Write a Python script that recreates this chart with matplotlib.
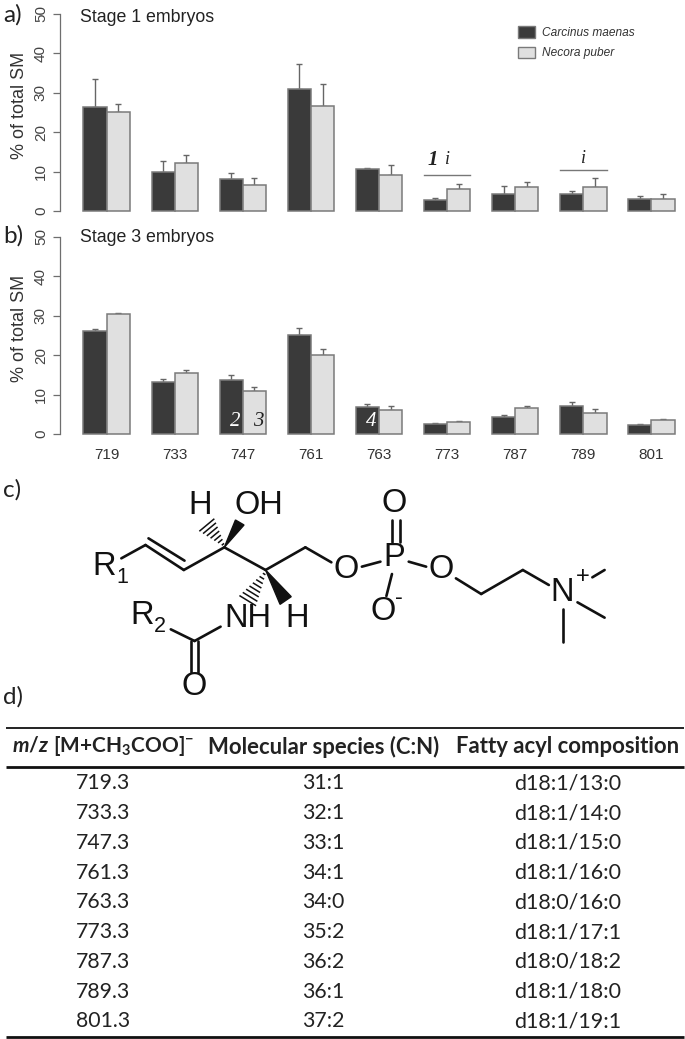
import matplotlib
matplotlib.use("Agg")
import matplotlib.pyplot as plt
from matplotlib.patches import Patch, Polygon
import numpy as np

plt.rcParams['font.family'] = ['Liberation Sans', 'DejaVu Sans']
plt.rcParams['mathtext.fontset'] = 'custom'
plt.rcParams['mathtext.rm'] = 'Lato:bold'
plt.rcParams['mathtext.it'] = 'Lato:italic:bold'
plt.rcParams['mathtext.bf'] = 'Lato:bold'

# ---------- data ----------
mz_labels = ['719', '733', '747', '761', '763', '773', '787', '789', '801']
species = ['Carcinus maenas', 'Necora puber']

s1_carcinus = [26.3, 10.0, 8.1, 30.9, 10.6, 2.7, 4.3, 4.3, 3.1]
s1_carcinus_top = [33.5, 12.8, 9.7, 37.4, 10.8, 3.3, 6.25, 5.2, 3.9]
s1_necora = [25.2, 12.1, 6.5, 26.7, 9.1, 5.5, 6.0, 6.2, 3.0]
s1_necora_top = [27.1, 14.2, 8.4, 32.3, 11.8, 6.8, 7.4, 8.4, 4.2]

s3_carcinus = [26.2, 13.3, 13.7, 25.0, 6.8, 2.5, 4.3, 7.2, 2.2]
s3_carcinus_top = [26.5, 13.85, 14.9, 26.8, 7.7, 2.7, 4.8, 8.0, 2.5]
s3_necora = [30.3, 15.5, 10.8, 20.0, 6.2, 3.0, 6.6, 5.3, 3.5]
s3_necora_top = [30.7, 16.2, 12.0, 21.6, 7.0, 3.2, 7.0, 6.25, 3.8]

yticks = [0, 10, 20, 30, 40, 50]

table_header = ['$\\mathit{m/z}$ $\\mathrm{[M{+}CH_3COO]^{-}}$',
                'Molecular species (C:N)', 'Fatty acyl composition']
table_mz = ['719.3', '733.3', '747.3', '761.3', '763.3', '773.3', '787.3', '789.3', '801.3']
table_species = ['31:1', '32:1', '33:1', '34:1', '34:0', '35:2', '36:2', '36:1', '37:2']
table_fatty = ['d18:1/13:0', 'd18:1/14:0', 'd18:1/15:0', 'd18:1/16:0', 'd18:0/16:0',
               'd18:1/17:1', 'd18:0/18:2', 'd18:1/18:0', 'd18:1/19:1']

# ---------- layout ----------
W, H = 685, 1039
fig = plt.figure(figsize=(W / 100, H / 100), dpi=100, facecolor='white')

DARK, LIGHT, EDGE, AXC = '#3a3a3a', '#e0e0e0', '#7a7a7a', '#6e6e6e'
x0, dx, barw = 106.6, 68.1, 23.2
left_px = 60


def panel(y_top, y_bot, dark, dark_top, light, light_top, title, title_y, xlabels=False):
    ax = fig.add_axes([left_px / W, 1 - y_bot / H, (W - left_px) / W, (y_bot - y_top) / H])
    ax.patch.set_alpha(0)
    ax.set_xlim((left_px - x0) / dx, (W - x0) / dx)
    ax.set_ylim(0, 50)
    pos = np.arange(len(mz_labels))
    bw = barw / dx
    for off, vals, tops, col in ((-bw / 2, dark, dark_top, DARK), (bw / 2, light, light_top, LIGHT)):
        vals, tops = np.array(vals), np.array(tops)
        ax.errorbar(pos + off, vals, yerr=[np.zeros_like(vals), tops - vals], fmt='none',
                    ecolor='#666666', elinewidth=1, capsize=2.4, capthick=1, zorder=2, clip_on=False)
        ax.bar(pos + off, vals, bw, color=col, edgecolor=EDGE, linewidth=1.1, zorder=3, clip_on=False)
    for s in ('top', 'right', 'bottom'):
        ax.spines[s].set_visible(False)
    ax.spines['left'].set_color(AXC)
    ax.spines['left'].set_linewidth(0.9)
    ax.set_yticks(yticks)
    ax.set_yticklabels([str(v) for v in yticks], rotation=90, va='center', fontsize=11, color='#444444')
    ax.tick_params(axis='y', length=4.7, width=0.9, color=AXC, pad=4)
    if xlabels:
        ax.set_xticks(pos)
        ax.set_xticklabels(mz_labels, fontsize=11, color='#333333')
        ax.tick_params(axis='x', length=0, pad=10)
    else:
        ax.set_xticks([])
    fig.text(20 / W, 1 - ((y_top + y_bot) / 2 - 7) / H, '% of total SM', rotation=90, ha='center',
             va='center', fontsize=13, color='#333333')
    fig.text(80 / W, 1 - title_y / H, title, fontsize=12.8, color='#222222', va='center')
    return ax


ax_a = panel(14, 211, s1_carcinus, s1_carcinus_top, s1_necora, s1_necora_top, 'Stage 1 embryos', 17)
ax_b = panel(236.7, 434, s3_carcinus, s3_carcinus_top, s3_necora, s3_necora_top, 'Stage 3 embryos', 238, xlabels=True)

ax_a.legend(handles=[Patch(facecolor=DARK, edgecolor=EDGE, label=species[0]),
                     Patch(facecolor=LIGHT, edgecolor=EDGE, label=species[1])],
            loc='upper left', bbox_to_anchor=(516 / W, 1 - 24 / H), bbox_transform=fig.transFigure,
            frameon=False, prop={'style': 'italic', 'size': 8.6}, handlelength=1.35, handleheight=1.1,
            labelspacing=0.62, handletextpad=0.65, borderpad=0.2, borderaxespad=0, labelcolor='#333333')

# significance markers
ax_a.plot([5 - barw / dx, 5 + barw / dx], [9.1, 9.1], color='#777777', lw=1, zorder=4)
ax_a.plot([7 - barw / dx, 7 + barw / dx], [10.4, 10.4], color='#777777', lw=1, zorder=4)
serif_it = dict(family='Liberation Serif', style='italic', ha='center', va='center')
ax_a.text(4.79, 13.0, '1', fontsize=15, fontweight='bold', color='#222222', **serif_it)
ax_a.text(5.0, 13.0, 'i', fontsize=13, color='#222222', **serif_it)
ax_a.text(7.0, 13.4, 'i', fontsize=13, color='#222222', **serif_it)
ax_b.text(2 - barw / dx / 2 + 0.06, 3.1, '2', fontsize=15, color='white', **serif_it)
ax_b.text(2 + barw / dx / 2 + 0.06, 3.1, '3', fontsize=15, color='#222222', **serif_it)
ax_b.text(4 - barw / dx / 2 + 0.06, 3.1, '4', fontsize=15, color='white', **serif_it)

# ---------- overlay in pixel coordinates ----------
ov = fig.add_axes([0, 0, 1, 1])
ov.set_xlim(0, W)
ov.set_ylim(H, 0)
ov.axis('off')
ov.patch.set_alpha(0)

lato = dict(family='Lato', color='#222222')
for lab, y, xx in (('a)', 15, 3), ('b)', 236, 3), ('c)', 490, 3), ('d)', 697, 3)):
    ov.text(xx, y, lab, fontsize=17.5, va='center', ha='left', **lato)


# chemical structure (diagram drawn from segments)
def P(zx, zy):
    return 60 + zx / 2.69, 470 + zy / 3


bonds = [((165, 265), (230, 225)), ((230, 225), (333, 300)), ((238, 205), (335, 272)),
         ((333, 300), (442, 232)), ((442, 232), (553, 300)), ((553, 300), (660, 232)),
         ((660, 232), (730, 277)), ((812, 290), (862, 275)), ((938, 275), (985, 290)),
         ((1065, 325), (1133, 372)), ((1133, 372), (1245, 300)), ((1245, 300), (1315, 345)),
         ((1432, 322), (1465, 300)), ((1392, 397), (1465, 443)), ((1354, 418), (1354, 515)),
         ((893, 150), (893, 215)), ((915, 150), (915, 215)), ((893, 312), (878, 378)),
         ((432, 470), (362, 513)), ((362, 513), (298, 478)),
         ((352, 513), (352, 605)), ((372, 513), (372, 605))]
for a, b in bonds:
    (xa, ya), (xb, yb) = P(*a), P(*b)
    ov.plot([xa, xb], [ya, yb], color='#111111', lw=1.9, solid_capstyle='round')

for tri in ([(442, 232), (472, 150), (495, 165)], [(553, 300), (592, 403), (622, 380)]):
    ov.add_patch(Polygon([P(*p) for p in tri], closed=True, color='#111111'))


def hashed(tip, end, n, half):
    xa, ya = P(*tip)
    xb, yb = P(*end)
    d = np.array([xb - xa, yb - ya])
    u = np.array([-d[1], d[0]]) / np.hypot(*d)
    for t in np.linspace(0.08, 1, n):
        c = np.array([xa, ya]) + d * t
        w = half * t
        ov.plot([c[0] - u[0] * w, c[0] + u[0] * w], [c[1] - u[1] * w, c[1] + u[1] * w],
                color='#111111', lw=1.1)


hashed((442, 228), (395, 165), 7, 9)
hashed((553, 305), (505, 392), 8, 9)

big, small = 23.5, 15.5
chem = dict(ha='center', va='center', color='#111111')
for txt, zx, zy, fs in (('R', 120, 290, big), ('1', 168, 322, small), ('H', 376, 105, big), ('OH', 535, 105, big),
                        ('O', 770, 297, big), ('P', 900, 262, big), ('O', 1025, 297, big), ('N', 1350, 368, big),
                        ('+', 1405, 322, 17), ('O', 900, 100, big), ('O', 868, 425, big), ('-', 912, 385, 17),
                        ('NH', 505, 445, big), ('H', 637, 445, big), ('R', 222, 437, big), ('2', 268, 470, small),
                        ('O', 362, 650, big)):
    px, py = P(zx, zy)
    ov.text(px, py, txt, fontsize=fs, **chem)

# table
for y, lw in ((728, 1.3), (767, 2.0), (1037, 2.0)):
    ov.plot([6.5, 684], [y, y], color='#111111', lw=lw, solid_capstyle='butt')
ov.text(103, 746.5, table_header[0], fontsize=15, ha='center', va='center', color='#222222')
ov.text(323.5, 746.5, table_header[1], fontsize=15.9, fontweight='bold', ha='center', va='center', **lato)
ov.text(567.5, 746.5, table_header[2], fontsize=15.9, fontweight='bold', ha='center', va='center', **lato)
row_y0, row_dy = 783.3, 29.75
for i, (m, s, f) in enumerate(zip(table_mz, table_species, table_fatty)):
    y = row_y0 + i * row_dy
    ov.text(103, y, m, fontsize=15.3, ha='center', va='center', **lato)
    ov.text(323.5, y, s, fontsize=15.3, ha='center', va='center', **lato)
    ov.text(567.5, y, f, fontsize=15.5, ha='center', va='center', **lato)

fig.savefig('out.png', dpi=100)
